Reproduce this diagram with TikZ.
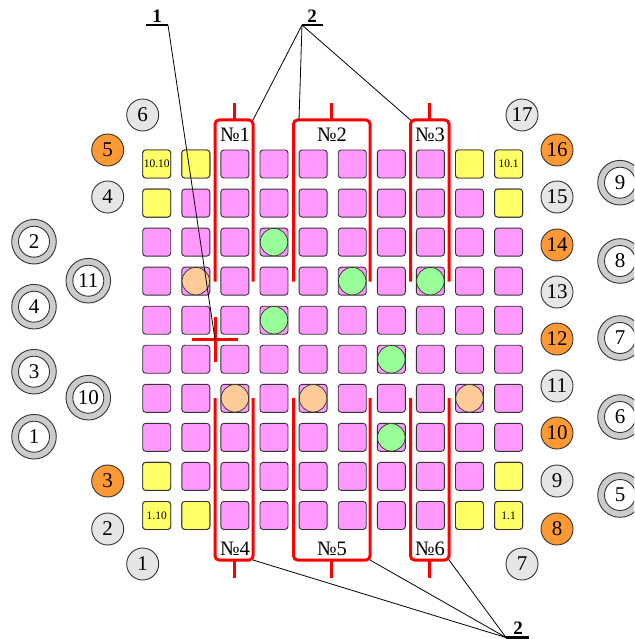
\documentclass[tikz,border=0pt]{standalone}
\usepackage{fontspec}
\usetikzlibrary{calc}
\setmainfont{Liberation Serif}
\definecolor{pinkc}{HTML}{FF99FF}
\definecolor{yellowc}{HTML}{FFFF66}
\definecolor{orangec}{HTML}{FF9933}
\definecolor{grayc}{HTML}{E6E6E6}
\definecolor{ringc}{HTML}{CCCCCC}
\definecolor{greenc}{HTML}{99FF99}
\definecolor{peachc}{HTML}{FFCC99}
\definecolor{edgec}{HTML}{333333}
\tikzset{
  sq/.style={draw=edgec,line width=0.9pt,rounded corners=3pt,minimum size=28pt,inner sep=0pt,outer sep=0pt,fill=pinkc,font=\fontsize{11.5}{13}\selectfont},
  ysq/.style={sq,fill=yellowc},
  pin/.style={circle,draw=edgec,line width=0.9pt,minimum size=32pt,inner sep=0pt,font=\fontsize{21}{24}\selectfont},
  gpin/.style={pin,fill=grayc},
  opin/.style={pin,fill=orangec},
  ring/.style={circle,draw=edgec,fill=white,line width=0.9pt,minimum size=31pt,inner sep=0pt,font=\fontsize{21}{24}\selectfont},
  rod/.style={circle,draw=edgec,line width=0.7pt,minimum size=27.5pt,inner sep=0pt},
  redl/.style={red,line width=3pt},
  lead/.style={black,line width=0.8pt},
  bar/.style={black,line width=2.4pt},
  lab/.style={font=\fontsize{20.5}{24}\selectfont,inner sep=0pt},
  num/.style={font=\fontsize{19}{22}\selectfont\bfseries,inner sep=0pt}
}
\newcommand{\ringpin}[4]{%
  \fill[ringc,draw=edgec,line width=0.9pt] (#2,#3) circle (22.3pt);
  \node[ring] (#1) at (#2,#3) {#4};
}
\begin{document}
\begin{tikzpicture}[x=1pt,y=-1pt]
\clip (0,0) rectangle (634,639);
\fill[white] (0,0) rectangle (634,639);

% fuel grid
\foreach \c in {1,...,10}{
  \foreach \r in {1,...,10}{
    \pgfmathsetmacro{\px}{156.7+39.1*(\c-1)}
    \pgfmathsetmacro{\py}{164+39.05*(\r-1)}
    \node[sq] (s\c-\r) at (\px,\py) {};
  }
}
\node[ysq] (y1) at (s1-1) {10.10};
\node[ysq] (y2) at (s2-1) {};
\node[ysq] (y3) at (s9-1) {};
\node[ysq] (y4) at (s10-1) {10.1};
\node[ysq] (y5) at (s1-2) {};
\node[ysq] (y6) at (s10-2) {};
\node[ysq] (y7) at (s1-9) {};
\node[ysq] (y8) at (s10-9) {};
\node[ysq] (y9) at (s1-10) {1.10};
\node[ysq] (y10) at (s2-10) {};
\node[ysq] (y11) at (s9-10) {};
\node[ysq] (y12) at (s10-10) {1.1};

% rods
\foreach \n/\c/\r in {g1/4/3,g2/4/5,g3/6/4,g4/8/4,g5/7/6,g6/7/8}{
  \node[rod,fill=greenc] (\n) at (s\c-\r) {};
}
\foreach \n/\c/\r in {p1/2/4,p2/3/7,p3/5/7,p4/9/7}{
  \node[rod,fill=peachc] (\n) at (s\c-\r) {};
}

% numbered pins, left
\node[gpin] (l6) at (142.7,115) {6};
\node[opin] (l5) at (107.7,150) {5};
\node[gpin] (l4) at (107.7,197) {4};
\node[opin] (l3) at (107.7,481) {3};
\node[gpin] (l2) at (107.7,529) {2};
\node[gpin] (l1) at (142.7,564) {1};
% numbered pins, right
\node[gpin] (r17) at (522,115) {17};
\node[opin] (r16) at (557,150) {16};
\node[gpin] (r15) at (557,197) {15};
\node[opin] (r14) at (557,245) {14};
\node[gpin] (r13) at (557,292) {13};
\node[opin] (r12) at (557,339) {12};
\node[gpin] (r11) at (557,386) {11};
\node[opin] (r10) at (557,433) {10};
\node[gpin] (r9) at (557,481) {9};
\node[opin] (r8) at (557,529) {8};
\node[gpin] (r7) at (522,564) {7};

% ring pins
\ringpin{a2}{34}{241.7}{2}
\ringpin{a11}{88.3}{280.7}{11}
\ringpin{a4}{34}{306.7}{4}
\ringpin{a3}{34}{371.7}{3}
\ringpin{a10}{88.3}{397.7}{10}
\ringpin{a1}{34}{436.7}{1}
\ringpin{b9}{620}{182.7}{9}
\ringpin{b8}{620}{261}{8}
\ringpin{b7}{620}{338}{7}
\ringpin{b6}{620}{417}{6}
\ringpin{b5}{620}{495}{5}

% red frames
\coordinate (t1l) at (215,120);\coordinate (t1r) at (253,120);
\coordinate (t2l) at (293.5,120);\coordinate (t2r) at (370,120);
\coordinate (t3l) at (410.5,120);\coordinate (t3r) at (449,120);
\coordinate (t2a) at (299,120);
\coordinate (b4l) at (215,560);\coordinate (b4r) at (253,560);
\coordinate (b5l) at (293.5,560);\coordinate (b5r) at (370,560);
\coordinate (b6l) at (410.5,560);\coordinate (b6r) at (449,560);
\foreach \l/\r in {t1l/t1r,t2l/t2r,t3l/t3r}{
  \draw[redl,rounded corners=4pt] ($(\l)+(0,161.5)$) -- (\l) -- (\r) -- ($(\r)+(0,161.5)$);
  \draw[redl] ($(\l)!0.5!(\r)$) -- ++(0,-17);
}
\foreach \l/\r in {b4l/b4r,b5l/b5r,b6l/b6r}{
  \draw[redl,rounded corners=4pt] ($(\l)+(0,-162)$) -- (\l) -- (\r) -- ($(\r)+(0,-162)$);
  \draw[redl] ($(\l)!0.5!(\r)$) -- ++(0,18);
}
\node[lab] (n1) at (235,135) {№1};
\node[lab] (n2) at (332,135) {№2};
\node[lab] (n3) at (430,135) {№3};
\node[lab] (n4) at (235,548.5) {№4};
\node[lab] (n5) at (332,548.5) {№5};
\node[lab] (n6) at (430,548.5) {№6};

% control cross
\coordinate (cross) at (215,339.5);
\draw[redl] (192,339.5) -- (238,339.5);
\draw[redl] (215,317) -- (215,362);

% leaders
\node[num] (k1) at (157,16) {1};
\node[num] (k2) at (312,16) {2};
\node[num] (k3) at (518,628) {2};
\coordinate (k1a) at (146,25);\coordinate (k1b) at (168,25);
\coordinate (k2a) at (302,25);\coordinate (k2b) at (323,25);
\coordinate (k3a) at (506,637.5);\coordinate (k3b) at (529,637.5);
\draw[bar] (k1a) -- (k1b);
\draw[bar] (k2a) -- (k2b);
\draw[bar] (k3a) -- (k3b);
\draw[lead] (k1b) -- (cross);
\draw[lead] (k2a) -- (t1r);
\draw[lead] (k2a) -- (t2a);
\draw[lead] (k2a) -- (t3l);
\draw[lead] (k3a) -- (b4r);
\draw[lead] (k3a) -- (b5r);
\draw[lead] (k3a) -- (b6r);
\end{tikzpicture}
\end{document}
